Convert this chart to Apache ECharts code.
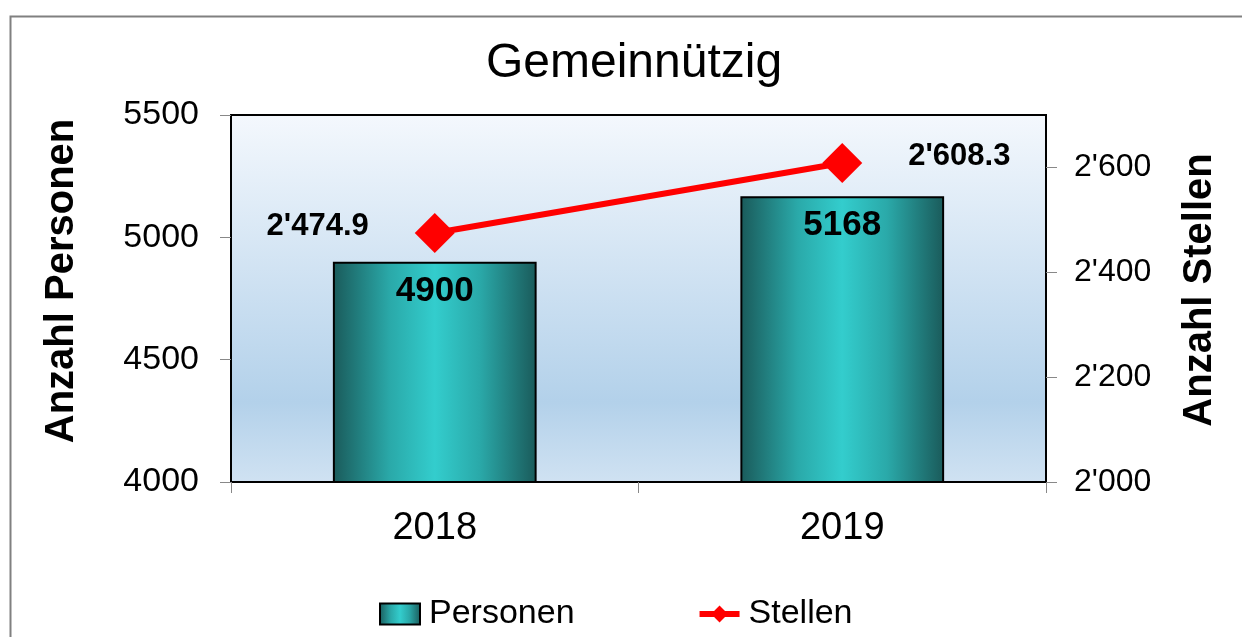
<!DOCTYPE html>
<html>
<head>
<meta charset="utf-8">
<script src="https://cdn.jsdelivr.net/npm/echarts@6/dist/echarts.min.js"></script>
<style>html,body{margin:0;padding:0;background:#fff}#c{width:1242px;height:637px}</style>
</head>
<body>
<div id="c"></div>
<script>
const title = 'Gemeinnützig';
const categories = ['2018', '2019'];
const personen = [4900, 5168];
const stellen = [2474.9, 2608.3];
const leftTicks = [4000, 4500, 5000, 5500];
const rightTicks = [2000, 2200, 2400, 2600];
const seriesNames = ['Personen', 'Stellen'];
const axisNames = ['Anzahl Personen', 'Anzahl Stellen'];

const FONT = '"Liberation Sans", Arial, sans-serif';
function fmtThousands(v, dec) {
  const s = v.toFixed(dec);
  const parts = s.split('.');
  parts[0] = parts[0].replace(/\B(?=(\d{3})+(?!\d))/g, "'");
  return parts.join('.');
}

const barGrad = {
  type: 'linear', x: 0, y: 0, x2: 1, y2: 0,
  colorStops: [
    {offset: 0, color: '#1a5a5a'},
    {offset: 0.28, color: '#2aa9a9'},
    {offset: 0.5, color: '#33cdcd'},
    {offset: 0.72, color: '#2aa9a9'},
    {offset: 1, color: '#1a5a5a'}
  ]
};
const bgGrad = {
  type: 'linear', x: 0, y: 0, x2: 0, y2: 1,
  colorStops: [
    {offset: 0, color: '#f4f8fd'},
    {offset: 0.78, color: '#b3d1ea'},
    {offset: 1, color: '#d0e2f2'}
  ]
};

const chart = echarts.init(document.getElementById('c'));
chart.setOption({
  animation: false,
  backgroundColor: '#fff',
  textStyle: {fontFamily: FONT},
  title: {
    text: title, left: 629, top: 35, textAlign: 'center',
    textStyle: {fontFamily: FONT, fontSize: 48, fontWeight: 'normal', color: '#000'}
  },
  grid: {
    left: 231, right: 196, top: 115, bottom: 155,
    show: true, backgroundColor: bgGrad, borderColor: '#000', borderWidth: 2
  },
  legend: {
    left: 374, top: 592, itemGap: 122, itemWidth: 40, itemHeight: 21,
    data: [
      {name: seriesNames[0], icon: 'rect'},
      {name: seriesNames[1], lineStyle: {width: 6}}
    ],
    textStyle: {fontFamily: FONT, fontSize: 34, color: '#000', padding: [0, 0, 0, 4]}
  },
  xAxis: {
    type: 'category', data: categories,
    axisLine: {show: false},
    axisTick: {show: true, length: 11, lineStyle: {color: '#888', width: 1}},
    axisLabel: {fontFamily: FONT, fontSize: 38, color: '#000', margin: 28},
    splitLine: {show: false}
  },
  yAxis: [
    {
      type: 'value', min: 4000, max: 5500, interval: 500,
      axisLine: {show: false},
      axisTick: {show: true, length: 11, lineStyle: {color: '#888', width: 1}, customValues: leftTicks},
      axisLabel: {fontFamily: FONT, fontSize: 34, color: '#000', margin: 32, customValues: leftTicks,
        formatter: v => String(v)},
      splitLine: {show: false}
    },
    {
      type: 'value', min: 2000, max: 2700, interval: 200, position: 'right',
      axisLine: {show: false},
      axisTick: {show: true, length: 11, lineStyle: {color: '#888', width: 1}, customValues: rightTicks},
      axisLabel: {fontFamily: FONT, fontSize: 32, color: '#000', margin: 28, customValues: rightTicks,
        formatter: v => fmtThousands(v, 0)},
      splitLine: {show: false}
    }
  ],
  series: [
    {
      name: seriesNames[0], type: 'bar', data: personen, barWidth: '50%',
      itemStyle: {color: barGrad, borderColor: '#000', borderWidth: 2},
      label: {show: true, position: 'insideTop', distance: 12, fontFamily: FONT,
        fontSize: 35, fontWeight: 'bold', color: '#000'},
      z: 2
    },
    {
      name: seriesNames[1], type: 'line', yAxisIndex: 1,
      data: stellen.map((v, i) => ({value: v, label: {position: i === 0 ? 'left' : 'right'}})),
      color: '#ff0000',
      lineStyle: {color: '#ff0000', width: 6},
      itemStyle: {color: '#ff0000'},
      symbol: 'diamond', symbolSize: 40,
      label: {show: true, distance: 46, offset: [0, -7], fontFamily: FONT, fontSize: 31,
        fontWeight: 'bold', color: '#000', formatter: p => fmtThousands(p.value, 1)},
      z: 5
    }
  ],
  graphic: [
    {type: 'rect', left: 8, top: 14, shape: {x: 0, y: 0, width: 1400, height: 800},
      style: {fill: null, stroke: '#808080', lineWidth: 2}, silent: true, z: -1},
    {type: 'text', x: 62, y: 281, rotation: Math.PI / 2,
      style: {text: axisNames[0], font: 'bold 40px ' + FONT, fill: '#000', align: 'center', verticalAlign: 'middle'}},
    {type: 'text', x: 1200, y: 290, rotation: Math.PI / 2,
      style: {text: axisNames[1], font: 'bold 40px ' + FONT, fill: '#000', align: 'center', verticalAlign: 'middle'}}
  ]
});
</script>
</body>
</html>
